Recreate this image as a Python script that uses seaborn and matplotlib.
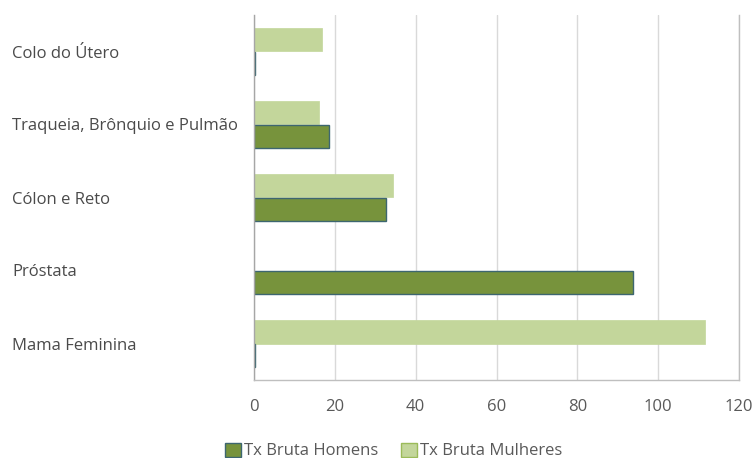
import matplotlib
matplotlib.use("Agg")
import matplotlib.pyplot as plt
import seaborn as sns
import pandas as pd
from matplotlib.patches import Patch

categories = ["Colo do Útero", "Traqueia, Brônquio e Pulmão", "Cólon e Reto", "Próstata", "Mama Feminina"]
homens = [0.3, 18.6, 32.7, 93.8, 0.3]
mulheres = [16.8, 16.1, 34.4, 0.0, 111.6]
series_names = ["Tx Bruta Homens", "Tx Bruta Mulheres"]
x_ticks = [0, 20, 40, 60, 80, 100, 120]

dark = "#77933C"
light = "#C3D69B"
edge_dark = "#3D6670"
txt = "#595959"

rows = []
for c, h, m in zip(categories, homens, mulheres):
    rows.append({"cat": c, "serie": series_names[1], "val": m})
    rows.append({"cat": c, "serie": series_names[0], "val": h})
df = pd.DataFrame(rows)

sns.set_theme(style="white")
plt.rcParams["font.family"] = ["Open Sans", "DejaVu Sans"]

fig = plt.figure(figsize=(7.54, 4.58), dpi=100)
ax = fig.add_axes([254/754, 1-380/458, (739-254)/754, (380-15)/458])

sns.barplot(data=df, y="cat", x="val", hue="serie", order=categories,
            hue_order=[series_names[1], series_names[0]],
            palette={series_names[0]: dark, series_names[1]: light},
            width=0.64, orient="h", ax=ax, legend=False, saturation=1)

for p in ax.patches:
    fc = p.get_facecolor()
    if abs(fc[0] - matplotlib.colors.to_rgba(dark)[0]) < 0.02:
        p.set_edgecolor(edge_dark)
        p.set_linewidth(1.0)
    else:
        p.set_edgecolor(light)
        p.set_linewidth(0.5)

ax.set_xlim(0, 120)
ax.set_xticks(x_ticks)
ax.set_xticklabels([str(t) for t in x_ticks])
ax.set_ylim(4.5, -0.5)
ax.set_xlabel("")
ax.set_ylabel("")
ax.grid(axis="x", color="#D9D9D9", linewidth=1.0)
ax.set_axisbelow(True)
ax.spines["top"].set_visible(False)
for s in ["left", "right", "bottom"]:
    ax.spines[s].set_visible(True)
    ax.spines[s].set_color("#BFBFBF")
    ax.spines[s].set_linewidth(1.0)
ax.spines["left"].set_color("#A6A6A6")

ax.tick_params(axis="x", length=0, pad=14, labelsize=12, labelcolor=txt)
ax.tick_params(axis="y", length=0, labelsize=12, labelcolor="#4A4A4A")
for lab in ax.get_yticklabels():
    lab.set_horizontalalignment("left")
ax.tick_params(axis="y", pad=(254-12)*72/100)

handles = [Patch(facecolor=dark, edgecolor=edge_dark, label=series_names[0]),
           Patch(facecolor=light, edgecolor="#9BBB59", label=series_names[1])]
fig.legend(handles=handles, loc="center", bbox_to_anchor=(393.5/754, 1-451/458),
           ncol=2, frameon=False, fontsize=12, handlelength=0.96, handleheight=0.96,
           handletextpad=0.15, columnspacing=1.4, labelcolor=txt)

fig.savefig("out.png", dpi=100, facecolor="white")
